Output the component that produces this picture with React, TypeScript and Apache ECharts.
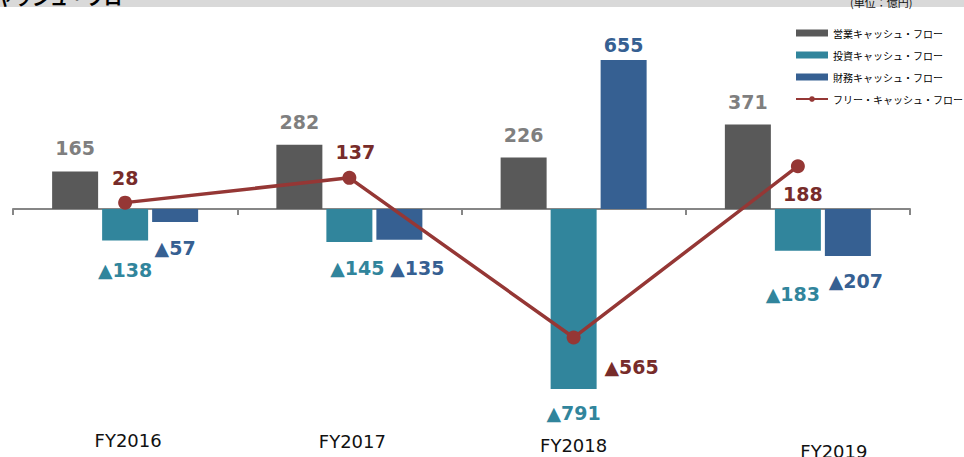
import React, { useEffect, useRef } from "react";
import * as echarts from "echarts";

// Fiscal years on the category axis
const categories = ["FY2016", "FY2017", "FY2018", "FY2019"];

// Cash flow figures (億円); negatives are shown with a ▲ prefix
const operatingCF = [165, 282, 226, 371];
const investingCF = [-138, -145, -791, -183];
const financingCF = [-57, -135, 655, -207];
const freeCF = [28, 137, -565, 188];

const seriesNames = [
  "営業キャッシュ・フロー",
  "投資キャッシュ・フロー",
  "財務キャッシュ・フロー",
  "フリー・キャッシュ・フロー",
];

const titleText = "キャッシュ・フロー";
const unitText = "(単位：億円)";

// Per-point label nudges [dx, dy] so labels do not collide
const operatingLabelShift = [
  [0, -13],
  [0, -13],
  [0, -13],
  [0, -13],
];
const investingLabelShift = [
  [0, 20],
  [8, 16],
  [0, 14],
  [-5, 33],
];
const financingLabelShift = [
  [0, 16],
  [18, 18],
  [0, -5],
  [8, 15],
];
const freeLabelShift = [
  [0, -25],
  [6, -26],
  [58, 29],
  [5, 28],
];

const COLORS = {
  operating: "#595959",
  investing: "#31859c",
  financing: "#366092",
  free: "#953735",
  operatingText: "#7f7f7f",
  freeText: "#772c2a",
};

const NUM_FONT = "'DejaVu Sans', Verdana, sans-serif";
const JP_FONT = "'Noto Sans CJK JP', sans-serif";

const fmt = (v: number) => (v < 0 ? "▲" + Math.abs(v) : String(v));

const numLabel = (color: string) => ({
  show: true,
  color,
  fontFamily: NUM_FONT,
  fontWeight: "bold" as const,
  fontSize: 19,
  lineHeight: 20,
  distance: 0,
  formatter: (p: any) => fmt(p.value),
});

const yearStyle = (top: number, left: number) => ({
  fontFamily: NUM_FONT,
  fontSize: 18,
  lineHeight: 20,
  color: "#111",
  padding: [top, 0, 0, left],
});

export default function App() {
  const ref = useRef<HTMLDivElement>(null);

  useEffect(() => {
    if (!ref.current) return;
    const chart = echarts.init(ref.current, undefined, { renderer: "svg" });

    const barItems = (vals: number[], shifts: number[][]) =>
      vals.map((v, i) => ({
        value: v,
        label: { position: v >= 0 ? "top" : "bottom", offset: shifts[i] },
      }));

    chart.setOption({
      animation: false,
      backgroundColor: "#ffffff",
      graphic: [
        {
          type: "rect",
          shape: { x: 0, y: 0, width: 964, height: 7 },
          style: { fill: "#d9d9d9" },
          z: 0,
        },
        {
          type: "text",
          x: -22,
          y: 6,
          style: {
            text: titleText,
            fill: "#000",
            font: `bold 18px ${JP_FONT}`,
            textVerticalAlign: "bottom",
          },
          z: 1,
        },
        {
          type: "text",
          x: 850,
          y: 7,
          style: {
            text: unitText,
            fill: "#111",
            font: `11px ${JP_FONT}`,
            textVerticalAlign: "bottom",
          },
          z: 1,
        },
      ],
      legend: {
        orient: "vertical",
        left: 790,
        top: 21,
        itemWidth: 32,
        itemHeight: 7,
        itemGap: 8,
        textStyle: {
          fontFamily: JP_FONT,
          fontSize: 10,
          lineHeight: 14,
          color: "#000",
        },
        data: [
          { name: seriesNames[0], icon: "rect" },
          { name: seriesNames[1], icon: "rect" },
          { name: seriesNames[2], icon: "rect" },
          { name: seriesNames[3] },
        ],
      },
      grid: {
        left: 13,
        right: 54,
        top: 49.75,
        bottom: 66,
        containLabel: false,
        outerBoundsMode: "none",
      },
      xAxis: [
        {
          // zero line with category boundary ticks
          type: "category",
          data: categories,
          axisLine: {
            onZero: true,
            lineStyle: { color: "#868686", width: 2 },
          },
          axisTick: {
            show: true,
            length: 6,
            lineStyle: { color: "#868686", width: 2 },
          },
          axisLabel: { show: false },
        },
        {
          // fiscal-year labels along the bottom of the plot
          type: "category",
          data: categories,
          position: "bottom",
          axisLine: { show: false, onZero: false },
          axisTick: { show: false },
          axisLabel: {
            margin: 39,
            color: "#111",
            fontFamily: NUM_FONT,
            fontSize: 18,
            lineHeight: 20,
            formatter: (v: string, i: number) => `{c${i}|${v}}`,
            rich: {
              c0: yearStyle(0, 6),
              c1: yearStyle(2, 6),
              c2: yearStyle(10, 0),
              c3: yearStyle(22, 72),
            },
          },
        },
      ],
      yAxis: {
        type: "value",
        min: -800,
        max: 700,
        show: false,
        splitLine: { show: false },
      },
      series: [
        {
          name: seriesNames[0],
          type: "bar",
          barWidth: 46,
          barGap: "8.7%",
          itemStyle: { color: COLORS.operating },
          label: numLabel(COLORS.operatingText),
          data: barItems(operatingCF, operatingLabelShift),
        },
        {
          name: seriesNames[1],
          type: "bar",
          barWidth: 46,
          barGap: "8.7%",
          itemStyle: { color: COLORS.investing },
          label: numLabel(COLORS.investing),
          data: barItems(investingCF, investingLabelShift),
        },
        {
          name: seriesNames[2],
          type: "bar",
          barWidth: 46,
          barGap: "8.7%",
          itemStyle: { color: COLORS.financing },
          label: numLabel(COLORS.financing),
          data: barItems(financingCF, financingLabelShift),
        },
        {
          name: seriesNames[3],
          type: "line",
          z: 5,
          symbol: "circle",
          symbolSize: 14,
          lineStyle: { color: COLORS.free, width: 3.5 },
          itemStyle: { color: COLORS.free },
          label: { ...numLabel(COLORS.freeText), position: "inside" },
          data: freeCF.map((v, i) => ({
            value: v,
            label: { offset: freeLabelShift[i] },
          })),
        },
      ],
    });

    return () => chart.dispose();
  }, []);

  return (
    <div
      ref={ref}
      style={{ position: "fixed", left: 0, top: 0, width: 964, height: 457 }}
    />
  );
}
